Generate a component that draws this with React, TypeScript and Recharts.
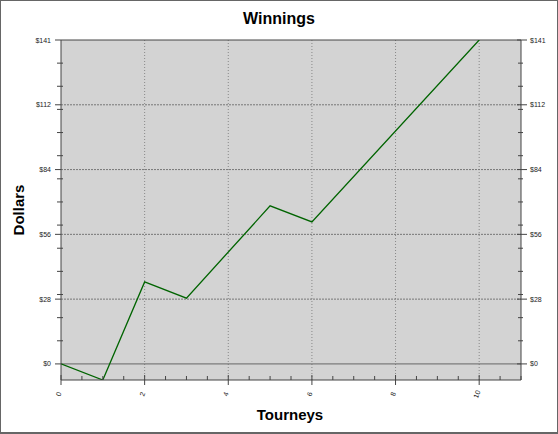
import { LineChart, Line, XAxis, YAxis, CartesianGrid, ReferenceLine } from 'recharts';

const tourneys = [0, 1, 2, 3, 5, 6, 10];
const winnings = [0, -7, 35.7, 28.6, 68.8, 61.8, 141];

const yMajorTicks = [0, 28.2, 56.4, 84.6, 112.8, 141];
const yMinorTicks = [10.07, 20.14, 30.21, 40.29, 50.36, 60.43, 70.5, 80.57, 90.64, 100.71, 110.79, 120.86, 130.93];
const xMajorTicks = [0, 2, 4, 6, 8, 10];
const xMinorTicks = [0.5, 1, 1.5, 2.5, 3, 3.5, 4.5, 5, 5.5, 6.5, 7, 7.5, 8.5, 9, 9.5, 10.5, 11];

const data = tourneys.map((t, i) => ({ tourney: t, winnings: winnings[i] }));

const FONT = '"Liberation Sans", Arial, sans-serif';
const AXIS = '#444';

function LeftTick(props: any) {
    const { x, y, payload } = props;
    const major = yMajorTicks.includes(payload.value);
    if (!major) return <line x1={x - 4} x2={x + 2} y1={y} y2={y} stroke={AXIS} />;
    return (
        <g>
            <line x1={x - 6} x2={x} y1={y} y2={y} stroke={AXIS} />
            <text x={x - 10} y={y} dy={2.5} textAnchor="end" fontSize={7} fontFamily={FONT} fill="#222">
                ${Math.floor(payload.value)}
            </text>
        </g>
    );
}

function RightTick(props: any) {
    const { x, y, payload } = props;
    const major = yMajorTicks.includes(payload.value);
    if (!major) return <line x1={x - 3} x2={x + 2} y1={y} y2={y} stroke={AXIS} />;
    return (
        <g>
            <line x1={x - 4} x2={x + 6} y1={y} y2={y} stroke={AXIS} />
            <text x={x + 9} y={y} dy={2.5} textAnchor="start" fontSize={7} fontFamily={FONT} fill="#222">
                ${Math.floor(payload.value)}
            </text>
        </g>
    );
}

function BottomTick(props: any) {
    const { x, y, payload } = props;
    const major = xMajorTicks.includes(payload.value);
    if (!major) return <line x1={x} x2={x} y1={y - 4} y2={y} stroke={AXIS} />;
    return (
        <g>
            <line x1={x} x2={x} y1={y - 5} y2={y + 5} stroke={AXIS} />
            <text
                x={x}
                y={y + 15}
                textAnchor="middle"
                fontSize={7}
                fontFamily={FONT}
                fill="#222"
                transform={`rotate(-70 ${x} ${y + 15})`}
            >
                {payload.value}
            </text>
        </g>
    );
}

export default function App() {
    return (
        <div
            style={{
                position: 'relative',
                width: 558,
                height: 434,
                background: '#fff',
                fontFamily: FONT,
            }}
        >
            <style>{'body { margin: 0; }'}</style>
            <LineChart width={558} height={434} data={data} margin={{ top: 40, right: 0, bottom: 0, left: 0 }}>
                <CartesianGrid fill="#d3d3d3" horizontal={false} vertical={false} yAxisId="left" />
                {xMajorTicks.slice(1).map((v) => (
                    <ReferenceLine key={`v${v}`} x={v} yAxisId="left" stroke="#888" strokeDasharray="1 2" />
                ))}
                {yMajorTicks.slice(1, 5).map((v) => (
                    <ReferenceLine key={`h${v}`} y={v} yAxisId="left" stroke="#777" strokeDasharray="2 1" />
                ))}
                <ReferenceLine y={0} yAxisId="left" stroke="#666" />
                <ReferenceLine y={141} yAxisId="left" stroke={AXIS} />
                <XAxis
                    dataKey="tourney"
                    type="number"
                    domain={[0, 11]}
                    ticks={[...xMajorTicks, ...xMinorTicks].sort((a, b) => a - b)}
                    interval={0}
                    height={54}
                    tickSize={0}
                    tickMargin={0}
                    tickLine={false}
                    axisLine={{ stroke: AXIS }}
                    tick={<BottomTick />}
                    allowDataOverflow
                />
                <YAxis
                    yAxisId="left"
                    orientation="left"
                    type="number"
                    domain={[-7, 141]}
                    ticks={[...yMajorTicks, ...yMinorTicks].sort((a, b) => a - b)}
                    interval={0}
                    width={61}
                    tickSize={0}
                    tickMargin={0}
                    tickLine={false}
                    axisLine={{ stroke: AXIS }}
                    tick={<LeftTick />}
                    allowDataOverflow
                />
                <YAxis
                    yAxisId="right"
                    orientation="right"
                    type="number"
                    domain={[-7, 141]}
                    ticks={[...yMajorTicks, ...yMinorTicks].sort((a, b) => a - b)}
                    interval={0}
                    width={37}
                    tickSize={0}
                    tickMargin={0}
                    tickLine={false}
                    axisLine={{ stroke: AXIS }}
                    tick={<RightTick />}
                    allowDataOverflow
                />
                <Line
                    yAxisId="left"
                    type="linear"
                    dataKey="winnings"
                    stroke="#006400"
                    strokeWidth={1.3}
                    dot={false}
                    activeDot={false}
                    isAnimationActive={false}
                />
            </LineChart>
            <div style={{ position: 'absolute', top: 10, left: 0, width: 558, textAlign: 'center', fontWeight: 'bold', fontSize: 16 }}>
                Winnings
            </div>
            <div style={{ position: 'absolute', top: 406, left: 0, width: 580, textAlign: 'center', fontWeight: 'bold', fontSize: 15 }}>
                Tourneys
            </div>
            <div
                style={{
                    position: 'absolute',
                    left: 18,
                    top: 210,
                    fontWeight: 'bold',
                    fontSize: 15,
                    transform: 'translate(-50%, -50%) rotate(-90deg)',
                }}
            >
                Dollars
            </div>
            <div
                style={{
                    position: 'absolute',
                    left: 0,
                    top: 0,
                    width: 558,
                    height: 434,
                    border: '1px solid #666',
                    borderBottomWidth: 2,
                    boxSizing: 'border-box',
                    pointerEvents: 'none',
                    zIndex: 2,
                }}
            />
        </div>
    );
}
